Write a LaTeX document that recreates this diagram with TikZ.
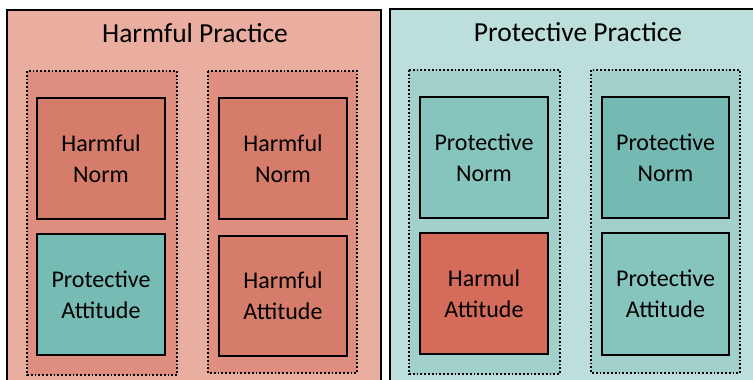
\documentclass[tikz,border=0pt]{standalone}
\usepackage{fontspec}
\setmainfont{Carlito}
\definecolor{hbg}{HTML}{E9AE9F}
\definecolor{hgrp}{HTML}{DF8F7F}
\definecolor{hbox}{HTML}{D67C6A}
\definecolor{pbg}{HTML}{BDDFDB}
\definecolor{pgrp}{HTML}{A2D1CB}
\definecolor{pbox}{HTML}{86C5BD}
\definecolor{pboxd}{HTML}{74BAB2}
\definecolor{hred}{HTML}{D56B5A}
\definecolor{pteal}{HTML}{76BCB4}
\begin{document}
\begin{tikzpicture}[x=1pt,y=-1pt,
  panel/.style={draw=black,line width=2.2pt},
  grp/.style={draw=black,line width=1.8pt,dotted},
  card/.style={draw=black,line width=1.8pt,align=center,font=\fontsize{24}{31}\selectfont,inner sep=0pt},
  ttl/.style={font=\fontsize{27.5}{32}\selectfont,inner sep=0pt}]
\useasboundingbox (0,0) rectangle (753,380);
\clip (0,0) rectangle (753,380);
\fill[white] (0,0) rectangle (753,380);
% panels
\draw[panel,fill=hbg] (7,10) rectangle (381,400);
\draw[panel,fill=pbg] (390,9) rectangle (770,400);
\node[ttl] (t1) at (195,33) {Harmful Practice};
\node[ttl] (t2) at (578,32) {Protective Practice};
% groups
\draw[grp,fill=hgrp] (27,71) rectangle (177,375);
\draw[grp,fill=hgrp] (208,71) rectangle (357,373);
\draw[grp,fill=pgrp] (409,70) rectangle (560,374);
\draw[grp,fill=pgrp] (591,70) rectangle (740,373);
% cards
\node[card,fill=hbox,minimum width=128pt,minimum height=121pt] (a1) at (101,158.5) {Harmful\\Norm};
\node[card,fill=pteal,minimum width=128pt,minimum height=121pt] (a2) at (101,294.5) {Protective\\Attitude};
\node[card,fill=hbox,minimum width=128pt,minimum height=121pt] (b1) at (283,158.5) {Harmful\\Norm};
\node[card,fill=hbox,minimum width=128pt,minimum height=120pt] (b2) at (283,296) {Harmful\\Attitude};
\node[card,fill=pbox,minimum width=128pt,minimum height=121pt] (c1) at (484,157.5) {Protective\\Norm};
\node[card,fill=hred,minimum width=128pt,minimum height=121pt] (c2) at (484,293.5) {Harmul\\Attitude};
\node[card,fill=pboxd,minimum width=127pt,minimum height=121pt] (d1) at (665.5,157.5) {Protective\\Norm};
\node[card,fill=pbox,minimum width=127pt,minimum height=122pt] (d2) at (665.5,294) {Protective\\Attitude};
\end{tikzpicture}
\end{document}
